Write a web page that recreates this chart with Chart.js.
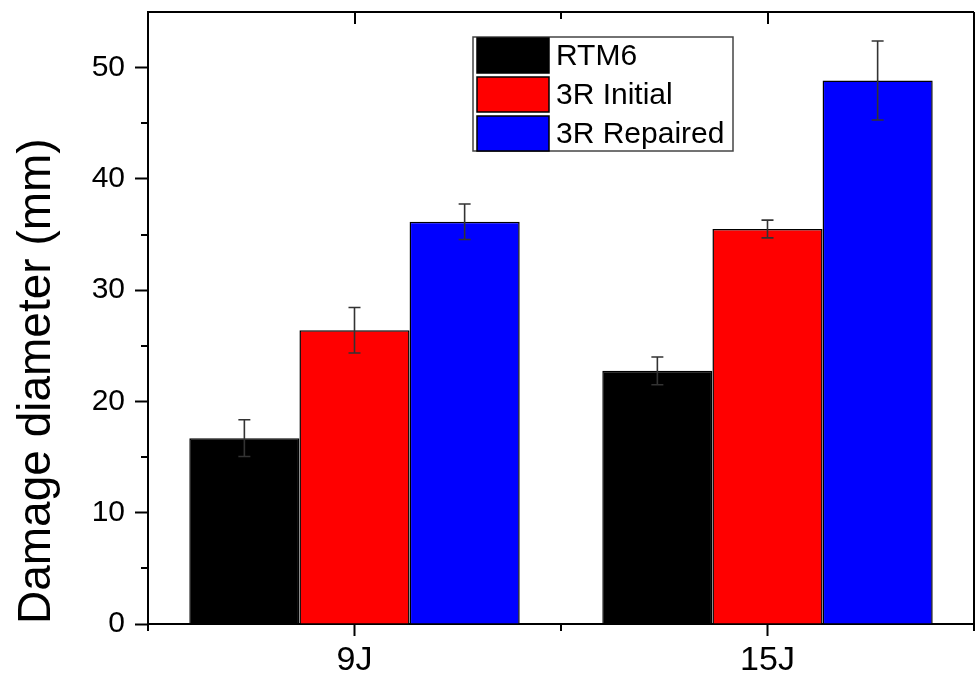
<!DOCTYPE html>
<html>
<head>
<meta charset="utf-8">
<script src="https://cdn.jsdelivr.net/npm/chart.js@4.4.1/dist/chart.umd.min.js"></script>
<style>
  html, body { margin: 0; padding: 0; background: #fff; }
  #wrap { width: 976px; height: 678px; }
</style>
</head>
<body>
<div id="wrap"><canvas id="c" width="976" height="678"></canvas></div>
<script>
// Impact energies and damage diameters (mm), mean values with ± error
const categories = ['9J', '15J'];
const seriesNames = ['RTM6', '3R Initial', '3R Repaired'];
const rtm6 = [16.7, 22.75];
const initial3R = [26.4, 35.5];
const repaired3R = [36.15, 48.85];
const rtm6Err = [1.65, 1.25];
const initial3RErr = [2.05, 0.8];
const repaired3RErr = [1.6, 3.55];
const yTicks = [0, 10, 20, 30, 40, 50];
const yMax = 55;

const seriesValues = [rtm6, initial3R, repaired3R];
const seriesErrors = [rtm6Err, initial3RErr, repaired3RErr];
const seriesColors = ['#000000', '#ff0000', '#0000ff'];
const FONT = "'Liberation Sans', Arial, sans-serif";

// Symmetric error bars drawn on top of each bar
const errorBars = {
  id: 'errorBars',
  afterDatasetsDraw(chart) {
    const ctx = chart.ctx;
    const y = chart.scales.y;
    ctx.save();
    ctx.strokeStyle = '#333';
    ctx.lineWidth = 1.6;
    chart.data.datasets.forEach((ds, i) => {
      const meta = chart.getDatasetMeta(i);
      meta.data.forEach((bar, j) => {
        const v = ds.data[j], e = ds.errors[j];
        const yt = y.getPixelForValue(v + e);
        const yb = y.getPixelForValue(v - e);
        const x = bar.x, cap = 6;
        ctx.beginPath();
        ctx.moveTo(x, yt); ctx.lineTo(x, yb);
        ctx.moveTo(x - cap, yt); ctx.lineTo(x + cap, yt);
        ctx.moveTo(x - cap, yb); ctx.lineTo(x + cap, yb);
        ctx.stroke();
      });
    });
    ctx.restore();
  }
};

// Closed frame with minor ticks and mirrored ticks on the top edge
const frame = {
  id: 'frame',
  afterDraw(chart) {
    const ctx = chart.ctx;
    const a = chart.chartArea;
    const x = chart.scales.x, y = chart.scales.y;
    ctx.save();
    ctx.strokeStyle = '#000';
    ctx.lineWidth = 2;
    ctx.beginPath();
    ctx.moveTo(a.left - 1, a.top); ctx.lineTo(a.right, a.top);
    ctx.moveTo(a.right, a.top); ctx.lineTo(a.right, a.bottom);
    ctx.stroke();
    // y minor ticks (outward)
    ctx.beginPath();
    for (let v = 5; v < yMax; v += 10) {
      const py = Math.round(y.getPixelForValue(v));
      ctx.moveTo(a.left - 7, py); ctx.lineTo(a.left, py);
    }
    // x minor ticks at category boundaries (outward)
    const half = (x.getPixelForValue(1) - x.getPixelForValue(0)) / 2;
    for (let k = 0; k <= categories.length; k++) {
      const px = Math.round(x.getPixelForValue(0) - half + k * 2 * half);
      ctx.moveTo(px, a.bottom); ctx.lineTo(px, a.bottom + 7);
      ctx.moveTo(px, a.top); ctx.lineTo(px, a.top + 7);
    }
    // top major ticks (inward)
    categories.forEach((c, i) => {
      const px = Math.round(x.getPixelForValue(i));
      ctx.moveTo(px, a.top); ctx.lineTo(px, a.top + 12);
    });
    ctx.stroke();
    ctx.restore();
  }
};

// Boxed legend in the upper part of the plot
const boxLegend = {
  id: 'boxLegend',
  afterDraw(chart) {
    const ctx = chart.ctx;
    const bx = 473, by = 37, bw = 260, bh = 114;
    const sw = 72, sh = 35, gap = 4;
    ctx.save();
    ctx.fillStyle = '#fff';
    ctx.fillRect(bx, by, bw, bh);
    ctx.strokeStyle = '#444';
    ctx.lineWidth = 1.5;
    ctx.strokeRect(bx, by, bw, bh);
    ctx.font = '30px ' + FONT;
    ctx.textBaseline = 'middle';
    chart.data.datasets.forEach((ds, i) => {
      const sy = by + 1 + i * (sh + gap);
      ctx.fillStyle = ds.backgroundColor;
      ctx.fillRect(bx + 4, sy, sw, sh);
      ctx.strokeStyle = '#000';
      ctx.lineWidth = 1.5;
      ctx.strokeRect(bx + 4, sy, sw, sh);
      ctx.fillStyle = '#000';
      ctx.fillText(ds.label, bx + 83, sy + sh / 2 + 1);
    });
    ctx.restore();
  }
};

new Chart(document.getElementById('c'), {
  type: 'bar',
  data: {
    labels: categories,
    datasets: seriesNames.map((name, i) => ({
      label: name,
      data: seriesValues[i],
      errors: seriesErrors[i],
      backgroundColor: seriesColors[i],
      borderColor: '#000',
      borderWidth: 1.5,
      categoryPercentage: 0.8,
      barPercentage: 1.0
    }))
  },
  options: {
    responsive: false,
    animation: false,
    devicePixelRatio: 1,
    layout: { padding: { top: 12, right: 2, left: 0, bottom: 0 } },
    plugins: {
      legend: { display: false },
      tooltip: { enabled: false }
    },
    scales: {
      x: {
        afterFit(s) { s.height = 54; s.paddingLeft = 0; s.paddingRight = 0; },
        grid: { offset: false, drawOnChartArea: false, drawTicks: true, tickLength: 12, tickWidth: 2, color: '#000' },
        border: { display: true, color: '#000', width: 2 },
        ticks: { color: '#000', font: { family: FONT, size: 34 }, padding: 4 }
      },
      y: {
        min: 0,
        max: yMax,
        afterFit(s) { s.width = 148; s.paddingTop = 0; s.paddingBottom = 0; },
        afterBuildTicks(s) { s.ticks = yTicks.map(v => ({ value: v })); },
        grid: { drawOnChartArea: false, drawTicks: true, tickLength: 13, tickWidth: 2, color: '#000' },
        border: { display: true, color: '#000', width: 2 },
        ticks: { color: '#000', font: { family: FONT, size: 30 }, padding: 10 },
        title: {
          display: true,
          text: 'Damage diameter (mm)',
          align: 'start',
          color: '#000',
          font: { family: FONT, size: 46 },
          padding: { top: 10, bottom: 0 }
        }
      }
    }
  },
  plugins: [errorBars, frame, boxLegend]
});
</script>
</body>
</html>
